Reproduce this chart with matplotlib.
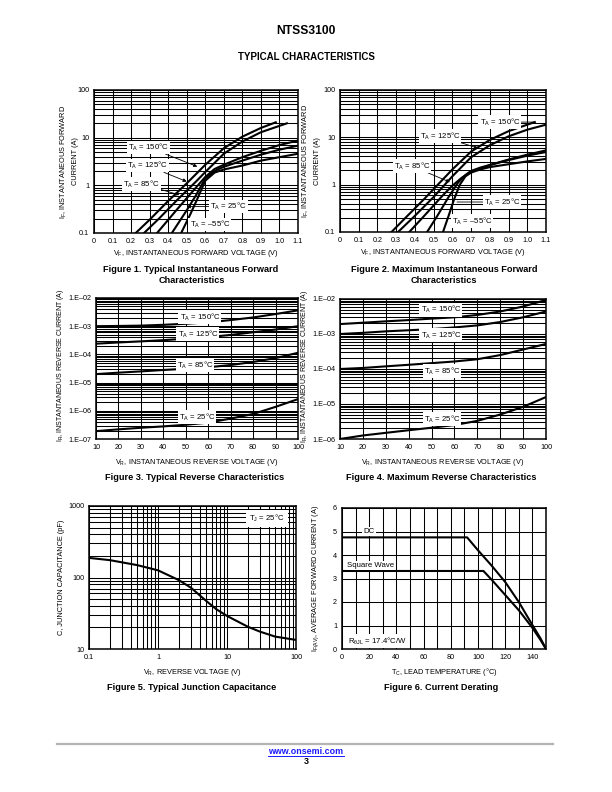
import matplotlib
matplotlib.use('Agg')
import matplotlib.pyplot as plt
from matplotlib.ticker import FixedLocator, FixedFormatter, NullFormatter, LogLocator
from matplotlib.lines import Line2D

plt.rcParams['font.family'] = ['Liberation Sans', 'DejaVu Sans']
plt.rcParams['mathtext.fontset'] = 'custom'
plt.rcParams['mathtext.rm'] = 'Liberation Sans'
plt.rcParams['mathtext.it'] = 'Liberation Sans:italic'
plt.rcParams['mathtext.bf'] = 'Liberation Sans:bold'

# ---------------- DATA ----------------
fwd_xticks = [0, 0.1, 0.2, 0.3, 0.4, 0.5, 0.6, 0.7, 0.8, 0.9, 1.0, 1.1]
fwd_xticklabels = ['0', '0.1', '0.2', '0.3', '0.4', '0.5', '0.6', '0.7', '0.8', '0.9', '1.0', '1.1']
fwd_yticks = [0.1, 1, 10, 100]
fwd_yticklabels = ['0.1', '1', '10', '100']

# Figure 1 - typical forward
f1_v150 = [0.225, 0.3, 0.4, 0.5, 0.6, 0.7, 0.8, 0.9, 0.98]
f1_i150 = [0.1, 0.19, 0.47, 1.1, 2.7, 6.0, 10.5, 16.0, 21.0]
f1_v125 = [0.27, 0.35, 0.45, 0.55, 0.6, 0.7, 0.8, 0.9, 1.04]
f1_i125 = [0.1, 0.2, 0.5, 1.2, 1.9, 4.6, 8.3, 13.0, 20.0]
f1_v85 = [0.34, 0.45, 0.55, 0.6, 0.65, 0.7, 0.8, 0.9, 1.0, 1.1]
f1_i85 = [0.1, 0.32, 0.9, 1.5, 2.2, 2.7, 3.9, 5.3, 7.0, 8.7]
f1_v25 = [0.42, 0.5, 0.55, 0.6, 0.65, 0.7, 0.8, 0.9, 1.0, 1.1]
f1_i25 = [0.1, 0.3, 0.62, 1.4, 2.0, 2.45, 3.3, 4.4, 5.6, 6.8]
f1_vm55 = [0.47, 0.52, 0.56, 0.6, 0.65, 0.7, 0.8, 0.9, 1.0, 1.1]
f1_im55 = [0.1, 0.25, 0.55, 1.25, 1.85, 2.15, 2.6, 3.3, 3.9, 4.6]

# Figure 2 - maximum forward
f2_v150 = [0.275, 0.35, 0.45, 0.55, 0.6, 0.7, 0.8, 0.9, 1.04]
f2_i150 = [0.1, 0.2, 0.5, 1.3, 2.1, 5.0, 8.8, 13.5, 21.0]
f2_v125 = [0.31, 0.4, 0.5, 0.6, 0.7, 0.8, 0.9, 1.0, 1.1]
f2_i125 = [0.1, 0.22, 0.55, 1.5, 3.8, 6.8, 10.5, 14.5, 18.5]
f2_v85 = [0.37, 0.45, 0.55, 0.6, 0.65, 0.7, 0.75, 0.8, 0.9, 1.0, 1.1]
f2_i85 = [0.1, 0.22, 0.6, 0.95, 1.4, 1.9, 2.2, 2.6, 3.4, 4.3, 5.3]
f2_v25 = [0.465, 0.52, 0.58, 0.63, 0.67, 0.7, 0.75, 0.8, 0.9, 1.0, 1.1]
f2_i25 = [0.1, 0.22, 0.55, 1.1, 1.6, 1.95, 2.3, 2.6, 3.3, 4.1, 4.9]
f2_vm55 = [0.55, 0.58, 0.61, 0.64, 0.67, 0.7, 0.75, 0.8, 0.9, 1.0, 1.1]
f2_im55 = [0.1, 0.22, 0.5, 1.0, 1.5, 1.8, 2.1, 2.35, 2.7, 3.1, 3.5]

# Figures 3/4 - reverse
rev_v = [10, 20, 30, 40, 50, 60, 70, 80, 90, 100]
rev_xticks = [10, 20, 30, 40, 50, 60, 70, 80, 90, 100]
rev_xticklabels = ['10', '20', '30', '40', '50', '60', '70', '80', '90', '100']
f3_yticks = [1e-7, 1e-6, 1e-5, 1e-4, 1e-3, 1e-2]
f3_yticklabels = ['1.E–07', '1.E–06', '1.E–05', '1.E–04', '1.E–03', '1.E–02']
f4_yticks = [1e-6, 1e-5, 1e-4, 1e-3, 1e-2]
f4_yticklabels = ['1.E–06', '1.E–05', '1.E–04', '1.E–03', '1.E–02']

f3_i150 = [1.0e-3, 1.02e-3, 1.05e-3, 1.12e-3, 1.22e-3, 1.37e-3, 1.65e-3, 2.04e-3, 2.7e-3, 3.65e-3]
f3_i125 = [2.4e-4, 2.65e-4, 2.9e-4, 3.2e-4, 3.6e-4, 4.1e-4, 4.9e-4, 6.1e-4, 7.6e-4, 1.0e-3]
f3_i85 = [2.0e-5, 2.25e-5, 2.5e-5, 2.8e-5, 3.1e-5, 3.5e-5, 4.2e-5, 5.4e-5, 7.4e-5, 1.14e-4]
f3_i25 = [1.9e-7, 2.2e-7, 2.5e-7, 2.8e-7, 3.2e-7, 3.8e-7, 5.3e-7, 7.7e-7, 1.38e-6, 2.6e-6]

f4_i150 = [1.92e-3, 2.1e-3, 2.3e-3, 2.5e-3, 2.75e-3, 3.0e-3, 3.5e-3, 4.4e-3, 6.1e-3, 9.4e-3]
f4_i125 = [1.0e-3, 1.08e-3, 1.19e-3, 1.28e-3, 1.38e-3, 1.54e-3, 1.76e-3, 2.2e-3, 3.0e-3, 4.4e-3]
f4_i85 = [1.0e-4, 1.07e-4, 1.19e-4, 1.32e-4, 1.47e-4, 1.64e-4, 1.9e-4, 2.5e-4, 3.6e-4, 5.2e-4]
f4_i25 = [1.0e-6, 1.26e-6, 1.5e-6, 1.78e-6, 2.1e-6, 2.5e-6, 3.3e-6, 5.0e-6, 8.3e-6, 1.58e-5]

# Figure 5 - capacitance
cap_v = [0.1, 0.2, 0.5, 1, 2, 3, 5, 7, 10, 20, 30, 50, 100]
cap_c = [188, 175, 149, 126, 92, 72, 47, 36, 29, 20.5, 17.5, 14.9, 13.4]
cap_xticks = [0.1, 1, 10, 100]
cap_xticklabels = ['0.1', '1', '10', '100']
cap_yticks = [10, 100, 1000]
cap_yticklabels = ['10', '100', '1000']

# Figure 6 - derating
dc_t = [0, 92, 100, 110, 120, 130, 140, 146, 150]
dc_i = [4.75, 4.75, 4.2, 3.55, 2.85, 2.0, 1.02, 0.45, 0.0]
sw_t = [0, 104, 110, 120, 130, 140, 146, 150]
sw_i = [3.32, 3.32, 2.95, 2.3, 1.65, 0.9, 0.38, 0.0]
der_xticks = [0, 20, 40, 60, 80, 100, 120, 140]
der_xticklabels = ['0', '20', '40', '60', '80', '100', '120', '140']
der_yticks = [0, 1, 2, 3, 4, 5, 6]
der_yticklabels = ['0', '1', '2', '3', '4', '5', '6']

# ---------------- STYLE ----------------
W, H = 612, 792
TICK_FS = 5.2
LABEL_FS = 5.3
CAP_FS = 6.6
ANN_FS = 5.6
CURVE_LW = 1.5
GRID_LW = 0.75

fig = plt.figure(figsize=(W / 100, H / 100), dpi=100)


def axbox(l, t, r, b):
    return fig.add_axes([l / W, 1 - b / H, (r - l) / W, (b - t) / H])


def style(ax):
    for s in ax.spines.values():
        s.set_linewidth(1.1)
        s.set_color('black')
    ax.tick_params(which='both', length=0, labelsize=TICK_FS, pad=3.5, colors='black')
    ax.grid(True, which='both', color='black', lw=GRID_LW)
    ax.set_axisbelow(True)


def logminor(axis):
    axis.set_minor_locator(LogLocator(base=10, subs=[2, 3, 4, 5, 6, 7, 8, 9], numticks=20))
    axis.set_minor_formatter(NullFormatter())


def set_ticks(axis, ticks, labels):
    axis.set_major_locator(FixedLocator(ticks))
    axis.set_major_formatter(FixedFormatter(labels))


bbox_w = dict(facecolor='white', edgecolor='none', pad=0.8)
arrow = dict(arrowstyle='-|>', color='black', lw=0.6, mutation_scale=5, shrinkA=0, shrinkB=0)
line_only = dict(arrowstyle='-', color='black', lw=0.6, shrinkA=0, shrinkB=0)


def lbl(ax, s, xy, xytext=None, props=None, ha='center'):
    if xytext is None:
        ax.text(xy[0], xy[1], s, fontsize=ANN_FS, ha=ha, va='center', bbox=bbox_w, zorder=5)
    else:
        ax.annotate(s, xy=xy, xytext=xytext, fontsize=ANN_FS, ha=ha, va='center',
                    bbox=bbox_w, arrowprops=props, zorder=5)


TA = 'T$_\\mathregular{A}$ = '

# ---------------- FIGURE 1 ----------------
ax1 = axbox(94, 90, 298, 233)
ax1.set_yscale('log')
ax1.set_xlim(0, 1.1)
ax1.set_ylim(0.1, 100)
set_ticks(ax1.xaxis, fwd_xticks, fwd_xticklabels)
set_ticks(ax1.yaxis, fwd_yticks, fwd_yticklabels)
logminor(ax1.yaxis)
style(ax1)
for v, i in [(f1_v150, f1_i150), (f1_v125, f1_i125), (f1_v85, f1_i85), (f1_v25, f1_i25), (f1_vm55, f1_im55)]:
    ax1.plot(v, i, color='black', lw=CURVE_LW, zorder=3)
lbl(ax1, TA + '150°C', (0.557, 2.47), (0.293, 6.3), arrow)
lbl(ax1, TA + '125°C', (0.50, 1.2), (0.288, 2.59), arrow)
lbl(ax1, TA + '85°C', (0.46, 0.63), (0.257, 1.07), arrow)
lbl(ax1, TA + '25°C', (0.50, 0.358), (0.724, 0.358), arrow)
lbl(ax1, TA + '–55°C', (0.625, 0.153))

# ---------------- FIGURE 2 ----------------
ax2 = axbox(340, 90, 546, 232)
ax2.set_yscale('log')
ax2.set_xlim(0, 1.1)
ax2.set_ylim(0.1, 100)
set_ticks(ax2.xaxis, fwd_xticks, fwd_xticklabels)
set_ticks(ax2.yaxis, fwd_yticks, fwd_yticklabels)
logminor(ax2.yaxis)
style(ax2)
for v, i in [(f2_v150, f2_i150), (f2_v125, f2_i125), (f2_v85, f2_i85), (f2_v25, f2_i25), (f2_vm55, f2_im55)]:
    ax2.plot(v, i, color='black', lw=CURVE_LW, zorder=3)
lbl(ax2, TA + '150°C', (1.04, 21.0), (0.854, 21.0), line_only)
lbl(ax2, TA + '125°C', (0.737, 5.9), (0.534, 10.7), arrow)
lbl(ax2, TA + '85°C', (0.587, 1.13), (0.385, 2.47), arrow)
lbl(ax2, TA + '25°C', (0.625, 0.43), (0.865, 0.43), line_only)
lbl(ax2, TA + '–55°C', (0.705, 0.17))

fwd_xlabel = 'V$_\\mathregular{F}$, INSTANTANEOUS FORWARD VOLTAGE (V)'
fwd_ylabel = 'I$_\\mathregular{F}$, INSTANTANEOUS FORWARD\nCURRENT (A)'
for ax, off in [(ax1, -25), (ax2, -29)]:
    ax.set_xlabel(fwd_xlabel, fontsize=LABEL_FS, va='center')
    ax.set_ylabel(fwd_ylabel, fontsize=LABEL_FS, va='center', ha='center', multialignment='center', linespacing=1.5)
    bb = ax.get_position()
    ax.xaxis.set_label_coords(0.5, -21 / (bb.height * H))
    ax.yaxis.set_label_coords(off / (bb.width * W), 0.5)

# ---------------- FIGURE 3 ----------------
ax3 = axbox(96, 298, 298, 439)
ax3.set_yscale('log')
ax3.set_xlim(10, 100)
ax3.set_ylim(1e-7, 1e-2)
set_ticks(ax3.xaxis, rev_xticks, rev_xticklabels)
set_ticks(ax3.yaxis, f3_yticks, f3_yticklabels)
logminor(ax3.yaxis)
style(ax3)
for i in [f3_i150, f3_i125, f3_i85, f3_i25]:
    ax3.plot(rev_v, i, color='black', lw=CURVE_LW, zorder=3)
lbl(ax3, TA + '150°C', (56.3, 2.1e-3))
lbl(ax3, TA + '125°C', (55.4, 5.3e-4))
lbl(ax3, TA + '85°C', (54.1, 4.2e-5))
lbl(ax3, TA + '25°C', (55.0, 6.0e-7))

# ---------------- FIGURE 4 ----------------
ax4 = axbox(340, 299, 546, 439)
ax4.set_yscale('log')
ax4.set_xlim(10, 100)
ax4.set_ylim(1e-6, 1e-2)
set_ticks(ax4.xaxis, rev_xticks, rev_xticklabels)
set_ticks(ax4.yaxis, f4_yticks, f4_yticklabels)
logminor(ax4.yaxis)
style(ax4)
for i in [f4_i150, f4_i125, f4_i85, f4_i25]:
    ax4.plot(rev_v, i, color='black', lw=CURVE_LW, zorder=3)
lbl(ax4, TA + '150°C', (54.1, 4.9e-3))
lbl(ax4, TA + '125°C', (54.1, 9.4e-4))
lbl(ax4, TA + '85°C', (54.5, 8.7e-5))
lbl(ax4, TA + '25°C', (54.5, 3.7e-6))

rev_xlabel = 'V$_\\mathregular{R}$, INSTANTANEOUS REVERSE VOLTAGE (V)'
rev_ylabel = 'I$_\\mathregular{R}$, INSTANTANEOUS REVERSE CURRENT (A)'
for ax, off in [(ax3, -35), (ax4, -35)]:
    ax.set_xlabel(rev_xlabel, fontsize=LABEL_FS, va='center')
    ax.set_ylabel(rev_ylabel, fontsize=5.0, va='center', ha='center')
    bb = ax.get_position()
    ax.xaxis.set_label_coords(0.5, -23 / (bb.height * H))
    ax.yaxis.set_label_coords(off / (bb.width * W), 0.52)

# ---------------- FIGURE 5 ----------------
ax5 = axbox(89, 506, 296, 649)
ax5.set_xscale('log')
ax5.set_yscale('log')
ax5.set_xlim(0.1, 100)
ax5.set_ylim(10, 1000)
set_ticks(ax5.xaxis, cap_xticks, cap_xticklabels)
set_ticks(ax5.yaxis, cap_yticks, cap_yticklabels)
logminor(ax5.xaxis)
logminor(ax5.yaxis)
style(ax5)
ax5.plot(cap_v, cap_c, color='black', lw=CURVE_LW, zorder=3)
ax5.text(0.86, 0.91, 'T$_\\mathregular{J}$ = 25°C', transform=ax5.transAxes, fontsize=ANN_FS,
         ha='center', va='center', bbox=dict(facecolor='white', edgecolor='none', pad=2.0), zorder=5)
ax5.set_xlabel('V$_\\mathregular{R}$, REVERSE VOLTAGE (V)', fontsize=LABEL_FS, va='center')
ax5.set_ylabel('C, JUNCTION CAPACITANCE (pF)', fontsize=LABEL_FS, va='center', ha='center')
bb = ax5.get_position()
ax5.xaxis.set_label_coords(0.5, -23 / (bb.height * H))
ax5.yaxis.set_label_coords(-27 / (bb.width * W), 0.5)

# ---------------- FIGURE 6 ----------------
ax6 = axbox(342, 508, 546, 649)
ax6.set_xlim(0, 150)
ax6.set_ylim(0, 6)
set_ticks(ax6.xaxis, der_xticks, der_xticklabels)
ax6.xaxis.set_minor_locator(FixedLocator(list(range(10, 150, 20))))
set_ticks(ax6.yaxis, der_yticks, der_yticklabels)
style(ax6)
ax6.plot(dc_t, dc_i, color='black', lw=CURVE_LW, zorder=3)
ax6.plot(sw_t, sw_i, color='black', lw=CURVE_LW, zorder=3)
ax6.text(19.9, 5.0, 'DC', fontsize=ANN_FS, ha='center', va='center', bbox=bbox_w, zorder=5)
ax6.text(3.7, 3.54, 'Square Wave', fontsize=ANN_FS, ha='left', va='center', bbox=bbox_w, zorder=5)
ax6.text(4.4, 0.34, 'R$_\\mathregular{\\theta JL}$ = 17.4°C/W', fontsize=ANN_FS, ha='left', va='center',
         bbox=bbox_w, zorder=5)
ax6.set_xlabel('T$_\\mathregular{C}$, LEAD TEMPERATURE (°C)', fontsize=LABEL_FS, va='center')
ax6.set_ylabel('I$_\\mathregular{F(AV)}$, AVERAGE FORWARD CURRENT (A)', fontsize=LABEL_FS, va='center', ha='center')
bb = ax6.get_position()
ax6.xaxis.set_label_coords(0.5, -23 / (bb.height * H))
ax6.yaxis.set_label_coords(-26 / (bb.width * W), 0.5)

# ---------------- PAGE TEXT ----------------
def ftext(x, y, s, **kw):
    return fig.text(x / W, 1 - y / H, s, ha='center', va='center', **kw)


ftext(306, 31, 'NTSS3100', fontsize=8.7, fontweight='bold')
ftext(306, 57, 'TYPICAL CHARACTERISTICS', fontsize=7.0, fontweight='bold')
ftext(191, 269, 'Figure 1. Typical Instantaneous Forward', fontsize=CAP_FS, fontweight='bold')
ftext(192, 280, 'Characteristics', fontsize=CAP_FS, fontweight='bold')
ftext(444, 269, 'Figure 2. Maximum Instantaneous Forward', fontsize=CAP_FS, fontweight='bold')
ftext(444, 280, 'Characteristics', fontsize=CAP_FS, fontweight='bold')
ftext(195, 477, 'Figure 3. Typical Reverse Characteristics', fontsize=CAP_FS, fontweight='bold')
ftext(441, 477, 'Figure 4. Maximum Reverse Characteristics', fontsize=CAP_FS, fontweight='bold')
ftext(192, 687, 'Figure 5. Typical Junction Capacitance', fontsize=CAP_FS, fontweight='bold')
ftext(441, 687, 'Figure 6. Current Derating', fontsize=CAP_FS, fontweight='bold')

fig.add_artist(Line2D([57 / W, 553 / W], [1 - 744 / H, 1 - 744 / H], color='#b4b4b4', lw=1.6))
url = ftext(306, 752, 'www.onsemi.com', fontsize=6.4, fontweight='bold', color='#1a1aff')
ftext(306, 762, '3', fontsize=6.4, fontweight='bold')
fig.canvas.draw()
ext = url.get_window_extent()
fig.add_artist(Line2D([ext.x0 / W, ext.x1 / W], [(ext.y0 + 0.5) / H, (ext.y0 + 0.5) / H],
                      color='#1a1aff', lw=0.7))

fig.savefig('out.png', dpi=100)
